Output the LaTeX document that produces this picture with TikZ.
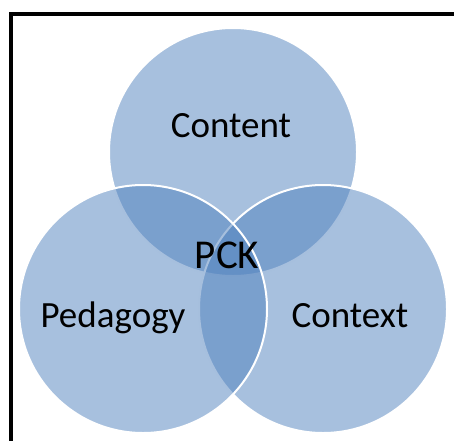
\documentclass[tikz,border=0pt]{standalone}
\usepackage{fontspec}
\setmainfont{Carlito}
\usepackage{tikz}
\usepackage{xcolor}
\definecolor{venn-blue}{RGB}{79,129,189}
\tikzset{
    venn-circle/.style = {circle, fill=venn-blue, fill opacity=0.5, draw=white, line width=2pt, minimum size=248pt, inner sep=0pt},
    venn-label/.style = {anchor=base, text=black, font=\fontsize{37}{44}\selectfont, inner sep=0pt},
}

\begin{document}
\begin{tikzpicture}[x=1pt, y=1pt]
\useasboundingbox (0,0) rectangle (454,440);
% frame
\draw[line width=3.2pt] (11,-2) -- (11,426) -- (456,426);
% circles, back to front
\node [venn-circle] (content) at (233,288) {};
\node [venn-circle] (context) at (323,131) {};
\node [venn-circle] (pedagogy) at (143,131) {};
% labels
\node [venn-label] (content-text) at (231,303) {Content};
\node [venn-label] (context-text) at (350,113) {Context};
\node [venn-label] (pedagogy-text) at (113,113) {Pedagogy};
\node [venn-label, font=\fontsize{41}{48}\selectfont] (pck-text) at (227,172) {PCK};
\end{tikzpicture}
\end{document}
